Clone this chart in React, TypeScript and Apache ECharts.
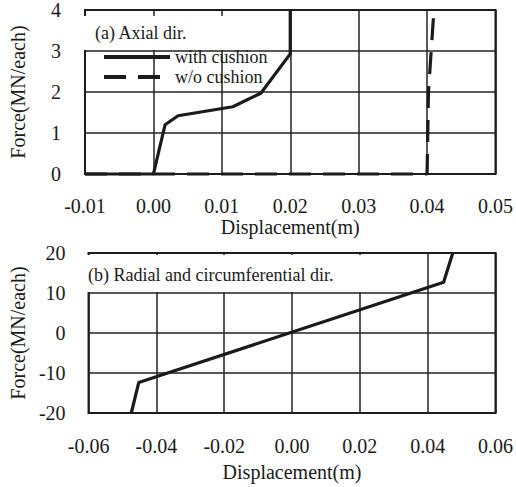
import React, { useEffect, useRef } from "react";
import * as echarts from "echarts";

// (a) Axial direction
const axialWithX = [-0.01, 0.0, 0.0017, 0.0036, 0.0116, 0.0157, 0.02, 0.02];
const axialWithY = [0, 0, 1.2, 1.42, 1.64, 1.97, 2.93, 4];
const axialWithoutX = [-0.01, 0.04, 0.0402, 0.041];
const axialWithoutY = [0, 0, 2, 4];
// (b) Radial and circumferential direction
const radialX = [-0.0474, -0.0452, 0.0447, 0.0474];
const radialY = [-20, -12.4, 12.7, 20];

const seriesNames = ["with cushion", "w/o cushion"];
const panelLabels = ["(a) Axial dir.", "(b) Radial and circumferential dir."];
const xName = "Displacement(m)";
const yName = "Force(MN/each)";

const FONT = "Liberation Serif";
const INK = "#1a1a1a";

const zip = (xs: number[], ys: number[]) => xs.map((x, i) => [x, ys[i]]);
const fmt2 = (v: number) => (Math.abs(v) < 1e-9 ? "0.00" : v.toFixed(2));
const fmt0 = (v: number) => String(Math.round(v));

export default function App() {
  const ref = useRef<HTMLDivElement>(null);
  useEffect(() => {
    if (!ref.current) return;
    const chart = echarts.init(ref.current, null, { renderer: "svg" });
    const splitLine = { show: true, lineStyle: { color: "#222", width: 1.5 } };
    const axisLabel = (f: (v: number) => string, margin: number) => ({
      fontFamily: FONT,
      fontSize: 20,
      color: INK,
      margin,
      formatter: f,
    });
    const nameStyle = { fontFamily: FONT, fontSize: 20, color: INK };
    chart.setOption({
      animation: false,
      backgroundColor: "#fff",
      textStyle: { fontFamily: FONT },
      grid: [
        { left: 79, right: 16, top: 10, height: 164, show: true, borderColor: "#111", borderWidth: 2, backgroundColor: "transparent" },
        { left: 77, right: 14, top: 253, height: 160, show: true, borderColor: "#111", borderWidth: 2, backgroundColor: "transparent" },
      ],
      xAxis: [
        {
          gridIndex: 0, type: "value", min: -0.01, max: 0.05, interval: 0.01,
          axisLine: { show: false }, axisTick: { show: false }, splitLine,
          axisLabel: axisLabel(fmt2, 22),
          name: xName, nameLocation: "middle", nameGap: 40, nameTextStyle: nameStyle,
        },
        {
          gridIndex: 1, type: "value", min: -0.06, max: 0.06, interval: 0.02,
          axisLine: { show: false }, axisTick: { show: false }, splitLine,
          axisLabel: axisLabel(fmt2, 23),
          name: xName, nameLocation: "middle", nameGap: 49, nameTextStyle: nameStyle,
        },
      ],
      yAxis: [
        {
          gridIndex: 0, type: "value", min: 0, max: 4, interval: 1,
          axisLine: { show: false }, axisTick: { show: false }, splitLine,
          axisLabel: axisLabel(fmt0, 24),
          name: yName, nameLocation: "middle", nameGap: 57, nameTextStyle: nameStyle,
        },
        {
          gridIndex: 1, type: "value", min: -20, max: 20, interval: 10,
          axisLine: { show: false }, axisTick: { show: false }, splitLine,
          axisLabel: axisLabel(fmt0, 23),
          name: yName, nameLocation: "middle", nameGap: 55, nameTextStyle: nameStyle,
        },
      ],
      legend: {
        data: seriesNames,
        orient: "vertical",
        left: 97,
        top: 43,
        itemWidth: 66,
        itemHeight: 16,
        itemGap: 2,
        itemStyle: { opacity: 0 },
        lineStyle: { width: 4 },
        textStyle: { fontFamily: FONT, fontSize: 18, lineHeight: 16, color: INK },
        z: 10,
      },
      graphic: [
        { type: "rect", z: 1, shape: { x: 81, y: 16, width: 150, height: 34 }, style: { fill: "#fff" } },
        { type: "text", z: 2, x: 95, y: 33, style: { text: panelLabels[0], font: `18px 'Liberation Serif', serif`, fill: INK, verticalAlign: "middle" } },
        { type: "rect", z: 1, shape: { x: 79, y: 255, width: 300, height: 37 }, style: { fill: "#fff" } },
        { type: "text", z: 2, x: 88, y: 275, style: { text: panelLabels[1], font: `18px 'Liberation Serif', serif`, fill: INK, verticalAlign: "middle" } },
      ],
      series: [
        {
          name: seriesNames[0], type: "line", xAxisIndex: 0, yAxisIndex: 0,
          data: zip(axialWithX, axialWithY), symbol: "none", clip: false, z: 5,
          itemStyle: { color: INK },
          lineStyle: { color: INK, width: 3.2 },
        },
        {
          name: seriesNames[1], type: "line", xAxisIndex: 0, yAxisIndex: 0,
          data: zip(axialWithoutX, axialWithoutY), symbol: "none", clip: false, z: 5,
          itemStyle: { color: INK },
          lineStyle: { color: INK, width: 3.2, type: [22, 12] },
        },
        {
          name: "radial", type: "line", xAxisIndex: 1, yAxisIndex: 1,
          data: zip(radialX, radialY), symbol: "none", clip: false, z: 5,
          itemStyle: { color: INK },
          lineStyle: { color: INK, width: 3.2 },
        },
      ],
    });
    return () => chart.dispose();
  }, []);
  return (
    <div
      ref={ref}
      style={{ position: "absolute", left: 0, top: 0, width: 516, height: 487, background: "#fff" }}
    />
  );
}
